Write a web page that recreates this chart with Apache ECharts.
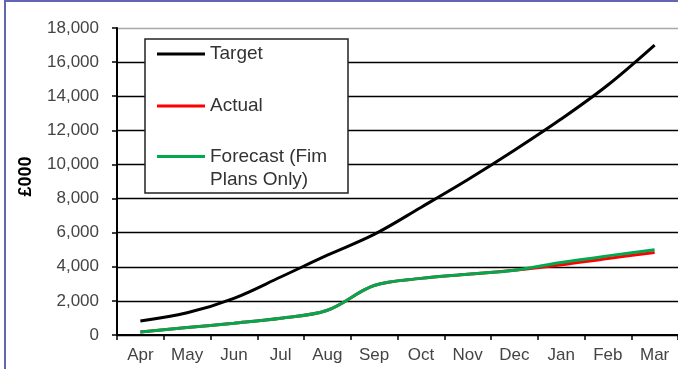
<!DOCTYPE html>
<html>
<head>
<meta charset="utf-8">
<script src="https://cdn.jsdelivr.net/npm/echarts@6/dist/echarts.min.js"></script>
<style>
  html, body { margin: 0; padding: 0; background: #fff; }
  #chart { width: 678px; height: 369px; }
</style>
</head>
<body>
<div id="chart"></div>
<script>
// Cumulative figures by month, in £000
const months = ['Apr', 'May', 'Jun', 'Jul', 'Aug', 'Sep', 'Oct', 'Nov', 'Dec', 'Jan', 'Feb', 'Mar'];
const target = [820, 1300, 2150, 3400, 4680, 5900, 7480, 9100, 10830, 12660, 14660, 17000];
const actual = [180, 440, 690, 980, 1450, 2900, 3320, 3560, 3800, 4120, 4490, 4840];
const forecast = [180, 440, 690, 980, 1450, 2900, 3320, 3560, 3800, 4250, 4640, 5000];
const yTicks = { min: 0, max: 18000, interval: 2000 };

const FONT = '"Liberation Sans", Arial, sans-serif';
const FORECAST = 'Forecast (Fim Plans Only)';
const chart = echarts.init(document.getElementById('chart'), null, { renderer: 'canvas' });

// plot-area top edge is grey, the other gridlines black
const gridColors = ['#000', '#000', '#000', '#000', '#000', '#000', '#000', '#000', '#000', '#a8a8a8'];
const legendIcon = 'path://M0,7L48,7L48,10L0,10Z';

chart.setOption({
  animation: false,
  backgroundColor: '#fff',
  grid: { left: 117, top: 28, width: 564, height: 307, containLabel: false },
  graphic: [
    // frame round the whole picture
    { type: 'rect', z: 100, silent: true,
      shape: { x: 5, y: 1, width: 700, height: 400 },
      style: { fill: null, stroke: '#6464b4', lineWidth: 2 } },
    // legend panel
    { type: 'rect', z: 5, silent: true,
      shape: { x: 145, y: 39, width: 203, height: 154 },
      style: { fill: '#fff', stroke: '#222', lineWidth: 1.5 } }
  ],
  legend: [
    {
      orient: 'vertical', left: 157, top: 43, padding: 0, itemGap: 30, z: 10,
      itemWidth: 48, itemHeight: 16, icon: legendIcon,
      textStyle: { fontFamily: FONT, fontSize: 19, color: '#333', lineHeight: 22 },
      data: ['Target', 'Actual']
    },
    {
      orient: 'vertical', left: 157, top: 122, padding: 0, z: 10,
      itemWidth: 48, itemHeight: 16, icon: legendIcon,
      textStyle: { fontFamily: FONT, fontSize: 19, color: '#333', lineHeight: 23 },
      // blank first line keeps the icon level with the first line of text
      formatter: () => '\nForecast (Fim\nPlans Only)',
      data: [FORECAST]
    }
  ],
  xAxis: {
    type: 'category',
    data: months,
    boundaryGap: true,
    axisLine: { lineStyle: { color: '#000', width: 2 } },
    axisTick: { show: true, length: 5, lineStyle: { color: '#000', width: 1.5 } },
    axisLabel: { fontFamily: FONT, fontSize: 17, color: '#444', margin: 12 }
  },
  yAxis: {
    type: 'value',
    min: yTicks.min, max: yTicks.max, interval: yTicks.interval,
    name: '£000',
    nameLocation: 'middle',
    nameRotate: 90,
    nameGap: 82,
    nameTextStyle: { fontFamily: FONT, fontSize: 18, fontWeight: 'bold', color: '#000', padding: [0, 0, 0, 10] },
    axisLine: { show: true, lineStyle: { color: '#000', width: 2 } },
    axisTick: { show: true, length: 5, lineStyle: { color: '#000', width: 1.5 } },
    axisLabel: {
      fontFamily: FONT, fontSize: 17, color: '#444', margin: 18,
      formatter: v => v.toLocaleString('en-GB')
    },
    splitLine: { show: true, lineStyle: { color: gridColors, width: 1.3 } }
  },
  series: [
    {
      name: 'Target', type: 'line', data: target, smooth: 0.35,
      symbol: 'none', z: 3,
      lineStyle: { color: '#000', width: 3 }, itemStyle: { color: '#000' }
    },
    {
      name: 'Actual', type: 'line', data: actual, smooth: 0.35,
      symbol: 'none', z: 3,
      lineStyle: { color: '#ff0000', width: 3 }, itemStyle: { color: '#ff0000' }
    },
    {
      name: FORECAST, type: 'line', data: forecast, smooth: 0.35,
      symbol: 'none', z: 4,
      lineStyle: { color: '#00a84f', width: 3 }, itemStyle: { color: '#00a84f' }
    }
  ]
});
</script>
</body>
</html>
